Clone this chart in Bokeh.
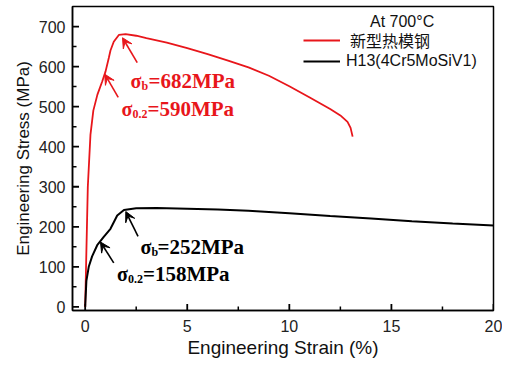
from bokeh.plotting import figure
from bokeh.models import (Range1d, FixedTicker, Arrow, VeeHead, Legend, LegendItem, Label)
from bokeh.core.properties import value
from bokeh.embed import file_html
from bokeh.resources import INLINE

# --- data ---
new_steel_strain = [0, 0.13, 0.26, 0.4, 0.6, 0.83, 1.0, 1.16, 1.24, 1.4, 1.65, 1.98, 2.5, 3.0, 4.0, 5.0,
                    6.0, 7.0, 8.0, 9.0, 10.0, 11.0, 12.0, 12.5, 12.85, 13.0, 13.1]
new_steel_stress = [0, 300, 430, 490, 530, 562, 588, 622, 640, 662, 679, 681, 677, 671, 660, 646,
                    631, 615, 598, 577, 551, 523, 494, 478, 462, 447, 425]

h13_strain = [0, 0.06, 0.18, 0.34, 0.59, 0.91, 1.24, 1.57, 1.9, 2.5, 3.5, 5.0, 6.5, 8.0,
              10.0, 12.0, 14.0, 16.0, 18.0, 20.0]
h13_stress = [0, 65, 101, 126, 154, 175, 195, 228, 242, 246, 247, 245, 243, 240,
              234, 227, 221, 214, 208, 203]

series_names = ["新型热模钢", "H13(4Cr5MoSiV1)"]
legend_title = "At 700°C"

x_major_ticks = [0, 5, 10, 15, 20]
x_minor_ticks = [2.5, 7.5, 12.5, 17.5]
y_major_ticks = [0, 100, 200, 300, 400, 500, 600, 700]
y_minor_ticks = [50, 150, 250, 350, 450, 550, 650]

# annotation texts: (symbol, subscript, rest)
ann_red_b = ("σ", "b", "=682MPa")
ann_red_02 = ("σ", "0.2", "=590MPa")
ann_blk_b = ("σ", "b", "=252MPa")
ann_blk_02 = ("σ", "0.2", "=158MPa")

# annotation anchors (strain, stress) and arrows (tail -> head)
ann_red_b_pos = (2.22, 563)
ann_red_02_pos = (1.78, 495)
ann_blk_b_pos = (2.71, 150)
ann_blk_02_pos = (1.56, 82)
arrow_red_b = (2.55, 610, 1.83, 672)
arrow_red_02 = (1.62, 523, 0.96, 581)
arrow_blk_b = (2.59, 176, 1.99, 238)
arrow_blk_02 = (1.40, 110, 0.75, 162)

RED = "#e8161b"
BLACK = "#000000"
X0, X1, Y0, Y1 = -0.62, 20, -9, 750

p = figure(width=502, height=360, output_backend="svg", toolbar_location=None,
           x_range=Range1d(X0, X1), y_range=Range1d(Y0, Y1),
           min_border_left=72, min_border_right=9, min_border_top=6, min_border_bottom=43)

p.xgrid.visible = False
p.ygrid.visible = False
p.outline_line_color = "black"
p.outline_line_width = 1.5
p.background_fill_color = "white"
p.border_fill_color = "white"

p.xaxis.ticker = FixedTicker(ticks=x_major_ticks)
p.yaxis.ticker = FixedTicker(ticks=y_major_ticks)
for ax in (p.xaxis[0], p.yaxis[0]):
    ax.axis_line_color = "black"
    ax.axis_line_width = 1.5
    ax.major_tick_in = 0
    ax.major_tick_out = 0
    ax.minor_tick_in = 0
    ax.minor_tick_out = 0
    ax.major_label_text_font = "Liberation Sans"
    ax.major_label_text_font_size = "16px"
    ax.major_label_text_color = "#222222"
    ax.axis_label_text_font = "Liberation Sans"
    ax.axis_label_text_font_style = "normal"
    ax.axis_label_text_color = "#111111"

p.xaxis.axis_label = "Engineering Strain (%)"
p.yaxis.axis_label = "Engineering Stress (MPa)"
p.xaxis.axis_label_text_font_size = "19px"
p.yaxis.axis_label_text_font_size = "17px"
p.xaxis.major_label_standoff = 9
p.yaxis.major_label_standoff = 7
p.xaxis.axis_label_standoff = 2
p.yaxis.axis_label_standoff = 3

# inward ticks: dash markers centred on the frame edge; the frame clips the outer half
p.scatter(x=x_major_ticks, y=[Y0] * len(x_major_ticks), marker="dash", size=13,
          angle=90, angle_units="deg", line_color="black", line_width=1.8)
p.scatter(x=x_minor_ticks, y=[Y0] * len(x_minor_ticks), marker="dash", size=8,
          angle=90, angle_units="deg", line_color="black", line_width=1.5)
p.scatter(x=[X0] * len(y_major_ticks), y=y_major_ticks, marker="dash", size=13,
          line_color="black", line_width=1.8)
p.scatter(x=[X0] * len(y_minor_ticks), y=y_minor_ticks, marker="dash", size=8,
          line_color="black", line_width=1.5)

r_red = p.line(new_steel_strain, new_steel_stress, line_color=RED, line_width=1.8)
r_blk = p.line(h13_strain, h13_stress, line_color=BLACK, line_width=2.0)

def add_ann(parts, pos, color, sub_dx, eq_dx):
    sym, sub, rest = parts
    x, y = pos
    common = dict(text_font=value("Liberation Serif"), text_font_style="bold",
                  text_color=color, text_baseline="alphabetic", text_align="left")
    p.text(x=[x], y=[y], text=[sym], text_font_size="20px", **common)
    p.text(x=[x], y=[y], text=[sub], text_font_size="12px", x_offset=sub_dx, y_offset=5, **common)
    p.text(x=[x], y=[y], text=[rest], text_font_size="21px", x_offset=eq_dx, **common)

add_ann(ann_red_b, ann_red_b_pos, RED, 11, 18)
add_ann(ann_red_02, ann_red_02_pos, RED, 11, 26)
add_ann(ann_blk_b, ann_blk_b_pos, BLACK, 11, 17)
add_ann(ann_blk_02, ann_blk_02_pos, BLACK, 11, 26)

for (xs, ys, xe, ye), col in ((arrow_red_b, RED), (arrow_red_02, RED),
                              (arrow_blk_b, BLACK), (arrow_blk_02, BLACK)):
    p.add_layout(Arrow(x_start=xs, y_start=ys, x_end=xe, y_end=ye, line_color=col, line_width=1.6,
                       end=VeeHead(size=10, fill_color=col, line_color=col, line_width=1)))

leg1 = Legend(items=[LegendItem(label=series_names[0], renderers=[r_red])],
              location=(231, 258), border_line_color=None, background_fill_alpha=0,
              padding=0, margin=0, glyph_width=37, glyph_height=20, label_height=20,
              label_standoff=10, label_text_font="Noto Sans CJK SC", label_text_font_size="16px",
              label_text_font_style="normal", label_text_color="#111111")
leg2 = Legend(items=[LegendItem(label=series_names[1], renderers=[r_blk])],
              location=(231, 239), border_line_color=None, background_fill_alpha=0,
              padding=0, margin=0, glyph_width=37, glyph_height=20, label_height=20,
              label_standoff=6, label_text_font="Liberation Sans", label_text_font_size="16px",
              label_text_color="#111111")
p.add_layout(leg1)
p.add_layout(leg2)

p.add_layout(Label(x=13.95, y=712, text=legend_title, text_font="Liberation Sans",
                   text_font_size="16px", text_color="#111111", text_baseline="alphabetic"))

open("out.html", "w").write(file_html(p, INLINE))
